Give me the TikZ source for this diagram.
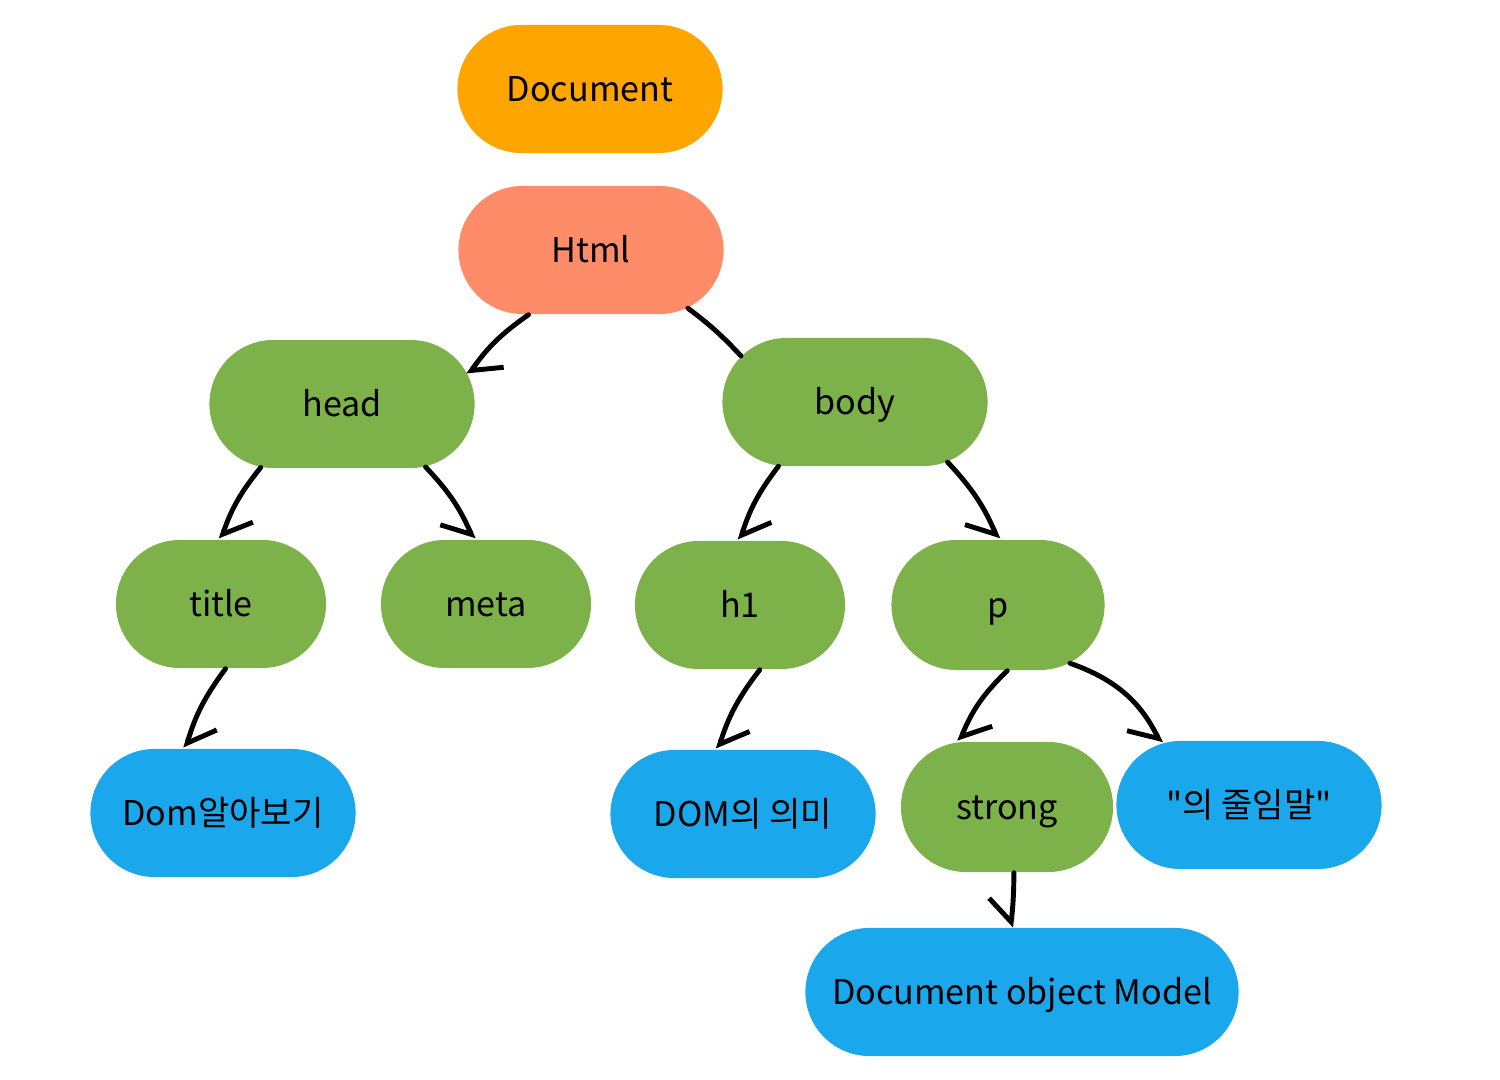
\documentclass[tikz,border=0pt]{standalone}
\usepackage{fontspec}
\setmainfont{Noto Sans CJK KR}
\usepackage{tikz}
\usetikzlibrary{shapes.misc,arrows.meta}

\definecolor{docorange}{HTML}{FFA500}
\definecolor{htmlsalmon}{HTML}{FF8C69}
\definecolor{taggreen}{HTML}{7DB14A}
\definecolor{textblue}{HTML}{1AA7EC}

\begin{document}
\begin{tikzpicture}[x=0.01cm, y=-0.01cm,
  tag/.style={rounded rectangle, minimum width=2.65cm, minimum height=1.28cm,
    inner sep=0pt, text height=0.8em, text depth=0.08em, text=black,
    font=\fontsize{9.7}{12}\selectfont},
  elem/.style={tag, fill=taggreen},
  leaf/.style={tag, fill=textblue},
  barbl/.style={line width=1.4pt, line cap=round, -{Straight Barb[left,length=6pt,width=14pt]}},
  barbr/.style={line width=1.4pt, line cap=round, -{Straight Barb[right,length=6pt,width=14pt]}}]
\useasboundingbox (0,0) rectangle (1500,1080);

\node[tag, fill=docorange] (document) at (590,89) {Document};
\node[tag, fill=htmlsalmon] (html) at (591,250) {Html};
\node[elem] (head) at (342,404) {head};
\node[elem] (body) at (855,402) {body};
\node[elem, minimum width=2.1cm] (title) at (221,604) {title};
\node[elem, minimum width=2.1cm] (meta) at (486,604) {meta};
\node[elem, minimum width=2.1cm] (h1) at (740,605) {h1};
\node[elem, minimum width=2.13cm, minimum height=1.3cm] (p) at (998,605) {p};
\node[leaf] (dom) at (223,813) {Dom알아보기};
\node[leaf] (meaning) at (743,814) {DOM의 의미};
\node[elem, minimum width=2.12cm, minimum height=1.3cm] (strong) at (1007,807) {strong};
\node[leaf] (abbr) at (1249,805) {\textquotedbl 의 줄임말\textquotedbl};
\node[leaf, minimum width=4.33cm] (model) at (1022,992) {Document object Model};

% down-left edges
\path[barbl]
  (html.226) edge[bend right=10] (head.13)
  (head.218) edge[bend right=10] (title.north)
  (body.220) edge[bend right=10] (h1.north)
  (title.274) edge[bend right=10] (dom.120)
  (h1.287) edge[bend right=10] (meaning.111)
  (p.278) edge[bend right=12] (strong.126);
% down-right edges
\path[barbr]
  (html.329) edge[bend left=5, -] (body.158)
  (head.323) edge[bend left=10] (meta.101)
  (body.327) edge[bend left=10] (p.north)
  (p.321) edge[bend left=22] (abbr.145)
  (strong.276) edge[bend left=3] (model.100);
\end{tikzpicture}
\end{document}
